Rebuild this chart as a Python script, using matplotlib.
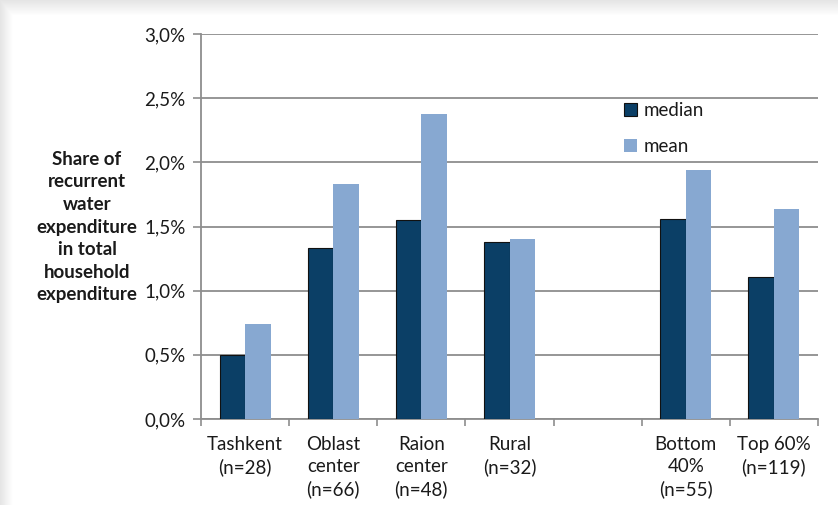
import numpy as np
import matplotlib
matplotlib.use("Agg")
import matplotlib.pyplot as plt
from matplotlib.ticker import FuncFormatter

plt.rcParams['font.family'] = ['Lato', 'DejaVu Sans']

categories = ["Tashkent\n(n=28)", "Oblast\ncenter\n(n=66)", "Raion\ncenter\n(n=48)",
              "Rural\n(n=32)", "", "Bottom\n40%\n(n=55)", "Top 60%\n(n=119)"]
median_vals = [0.50, 1.33, 1.55, 1.38, np.nan, 1.56, 1.11]
mean_vals = [0.74, 1.83, 2.38, 1.40, np.nan, 1.94, 1.64]
y_ticks = [0.0, 0.5, 1.0, 1.5, 2.0, 2.5, 3.0]
ylabel = "Share of\nrecurrent\nwater\nexpenditure\nin total\nhousehold\nexpenditure"

median_color = "#0b3f66"
mean_color = "#87a8d1"
grid_color = "#8e8e8e"
text_color = "#1a1a1a"
fs = 13.5

W, H = 838, 505
fig = plt.figure(figsize=(W / 100, H / 100), dpi=100)

# soft drop-shadow along the left and top of the panel
bg = fig.add_axes([0, 0, 1, 1], zorder=-10)
img = np.ones((H, W, 3))
xs = np.arange(W)
ys = np.arange(H)
shade_x = np.clip((12 - xs) / 12.0, 0, 1)
shade_y = np.clip((15 - ys) / 15.0, 0, 1)
shade = np.maximum(shade_x[None, :], shade_y[:, None]) * 0.10
img -= shade[:, :, None]
bg.imshow(img, aspect='auto', extent=[0, 1, 0, 1])
bg.axis('off')

ax = fig.add_axes([201 / W, 1 - 419 / H, (818 - 201) / W, (419 - 34) / H])
x = np.arange(len(categories))
bw = 0.29
ax.bar(x - bw / 2, median_vals, bw, color=median_color, edgecolor="#111111",
       linewidth=0.8, label="median", zorder=3)
ax.bar(x + bw / 2, mean_vals, bw, color=mean_color, edgecolor="none",
       label="mean", zorder=3)

ax.set_xlim(-0.5, len(categories) - 0.5)
ax.set_ylim(0, 3.0)
ax.set_yticks(y_ticks)
ax.yaxis.set_major_formatter(FuncFormatter(lambda v, _: f"{v:.1f}%".replace(".", ",")))
ax.yaxis.grid(True, color=grid_color, linewidth=1.3, zorder=0)

ax.set_xticks(x)
ax.set_xticklabels(categories, fontsize=fs, color=text_color, linespacing=1.38,
                   va='top')
ax.set_xticks(np.arange(-0.5, len(categories)), minor=True)
ax.tick_params(axis='x', which='major', length=0, pad=12)
ax.tick_params(axis='x', which='minor', length=5, width=1.2, color=grid_color)
ax.tick_params(axis='y', length=6, width=1.2, color=grid_color, labelsize=fs,
               labelcolor=text_color, pad=5)

for side in ('top', 'right'):
    ax.spines[side].set_visible(False)
for side in ('left', 'bottom'):
    ax.spines[side].set_color(grid_color)
    ax.spines[side].set_linewidth(1.3)

fig.text(87 / W, 1 - 227 / H, ylabel, ha='center', va='center', fontsize=fs,
         fontweight='bold', color=text_color, linespacing=1.4)

ax.legend(loc='upper left', bbox_to_anchor=((624 - 201) / (818 - 201), (419 - 102) / (419 - 34)),
          frameon=False, fontsize=fs, handlelength=0.7, handleheight=0.7,
          handletextpad=0.35, labelspacing=1.0, borderpad=0, borderaxespad=0,
          labelcolor=text_color)

fig.savefig("out.png", dpi=100)
